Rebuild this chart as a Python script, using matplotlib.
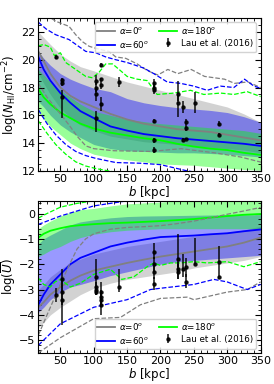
import numpy as np
import matplotlib
matplotlib.use("Agg")
import matplotlib.pyplot as plt
from matplotlib.ticker import MultipleLocator

# ---------------- data ----------------
xg = [17, 25, 35, 50, 65, 80, 100, 125, 150, 175, 200, 225, 250, 275, 300, 325, 350]

# top panel: log N_HI
n_gray_med = [20.6, 19.9, 19.0, 18.0, 17.4, 17.0, 16.6, 16.1, 15.7, 15.4, 15.2, 15.0, 14.9, 14.8, 14.6, 14.4, 14.2]
n_gray_lo = [19.0, 18.3, 17.5, 16.5, 15.8, 15.3, 14.9, 14.5, 14.3, 14.1, 14.0, 13.9, 13.8, 13.7, 13.6, 13.5, 13.3]
n_gray_hi = [22.0, 21.6, 21.1, 20.4, 19.9, 19.5, 19.2, 18.8, 18.4, 18.1, 17.8, 17.5, 17.2, 16.9, 16.6, 16.1, 15.5]
n_blue_med = [20.2, 19.3, 18.5, 17.6, 16.9, 16.3, 15.8, 15.2, 14.9, 14.65, 14.5, 14.35, 14.25, 14.15, 14.05, 13.95, 13.8]
n_blue_hi = [20.6, 20.1, 19.6, 19.0, 18.6, 18.3, 17.95, 17.7, 17.2, 16.9, 16.7, 16.55, 16.45, 16.35, 16.2, 15.9, 15.5]
n_blue_lo = [17.0, 16.6, 16.0, 15.3, 14.8, 14.4, 13.9, 13.6, 13.45, 13.4, 13.35, 13.3, 13.3, 13.25, 13.2, 13.1, 13.0]
n_green_med = [17.9, 17.3, 16.8, 16.2, 15.8, 15.4, 15.05, 14.75, 14.55, 14.35, 14.2, 13.95, 13.75, 13.6, 13.5, 13.3, 13.15]
n_green_hi = [19.3, 18.9, 18.4, 17.8, 17.3, 16.8, 16.3, 16.0, 15.7, 15.55, 15.4, 15.3, 15.2, 15.1, 15.0, 14.9, 14.7]
n_green_lo = [16.2, 15.7, 15.2, 14.6, 14.0, 13.6, 13.2, 12.95, 12.8, 12.65, 12.5, 12.45, 12.4, 12.3, 12.2, 12.1, 12.05]

n_gray_dhi_x = [17, 28, 43, 63, 73, 83, 93, 101, 113, 123, 133, 148, 165, 181, 196, 211, 226, 246, 266, 296, 311, 331, 350]
n_gray_dhi = [24.0, 23.25, 22.77, 22.4, 21.8, 21.3, 20.97, 20.85, 20.7, 20.6, 20.2, 20.1, 19.7, 19.2, 18.9, 19.3, 19.0, 19.3, 18.8, 18.6, 18.3, 18.4, 18.0]
n_blue_dhi_x = [17, 29, 43, 63, 88, 103, 118, 133, 150, 175, 190, 210, 230, 250, 270, 290, 310, 326, 340, 350]
n_blue_dhi = [22.7, 22.2, 21.8, 21.45, 20.6, 20.5, 20.2, 20.0, 19.8, 19.4, 19.0, 18.4, 18.3, 18.1, 17.8, 18.1, 18.0, 18.6, 18.1, 17.95]
n_green_dhi_x = [17, 25, 35, 41, 50, 58, 73, 88, 98, 108, 118, 128, 138, 150, 165, 180, 195, 220, 245, 265, 290, 310, 330, 350]
n_green_dhi = [21.0, 21.1, 20.9, 20.3, 20.5, 19.8, 19.3, 18.8, 18.7, 19.1, 19.7, 19.7, 19.3, 18.8, 18.6, 18.5, 17.5, 17.6, 17.8, 17.5, 17.6, 17.5, 17.7, 17.35]
n_gray_dlo_x = [17, 30, 45, 63, 75, 88, 100, 130, 186, 231, 281, 320, 353]
n_gray_dlo = [18.3, 17.3, 16.4, 15.3, 14.5, 13.8, 13.6, 13.45, 13.4, 13.6, 13.3, 13.0, 12.6]
n_blue_dlo_x = [17, 30, 43, 58, 73, 88, 103, 133, 170, 200, 240, 280, 350]
n_blue_dlo = [16.4, 15.4, 14.6, 13.9, 13.4, 13.1, 12.9, 12.6, 12.55, 12.45, 12.0, 11.7, 11.4]
n_green_dlo_x = [17, 30, 43, 58, 73, 88, 103, 133, 170, 200, 350]
n_green_dlo = [15.6, 14.7, 13.9, 13.2, 12.65, 12.35, 12.17, 11.9, 11.8, 11.7, 11.5]

# bottom panel: log U
u_gray_med = [-3.7, -3.5, -3.2, -2.9, -2.65, -2.45, -2.25, -2.1, -1.95, -1.82, -1.7, -1.6, -1.5, -1.4, -1.3, -1.15, -0.95]
u_gray_lo = [-4.5, -4.3, -4.0, -3.7, -3.45, -3.2, -2.95, -2.75, -2.6, -2.5, -2.4, -2.3, -2.15, -2.05, -1.95, -1.85, -1.7]
u_gray_hi = [-3.0, -2.8, -2.5, -2.2, -1.95, -1.8, -1.6, -1.45, -1.3, -1.2, -1.1, -1.0, -0.9, -0.8, -0.75, -0.65, -0.5]
u_blue_med = [-3.6, -3.2, -2.8, -2.4, -2.0, -1.75, -1.55, -1.3, -1.15, -1.03, -0.93, -0.9, -0.87, -0.82, -0.78, -0.7, -0.63]
u_blue_hi = [-1.2, -1.0, -0.85, -0.65, -0.45, -0.33, -0.25, -0.17, -0.12, -0.1, -0.09, -0.08, -0.07, -0.06, -0.05, -0.05, -0.05]
u_blue_lo = [-3.9, -3.7, -3.4, -3.1, -2.9, -2.8, -2.65, -2.45, -2.3, -2.15, -2.0, -1.9, -1.85, -1.8, -1.75, -1.7, -1.65]
u_green_med = [-0.95, -0.8, -0.68, -0.58, -0.5, -0.46, -0.42, -0.38, -0.36, -0.33, -0.3, -0.26, -0.22, -0.16, -0.1, -0.05, -0.02]
u_green_hi = [-0.6, -0.45, -0.3, -0.1, 0.05, 0.15, 0.2, 0.3, 0.38, 0.42, 0.45, 0.5, 0.55, 0.6, 0.6, 0.6, 0.6]
u_green_lo = [-1.7, -1.6, -1.45, -1.3, -1.1, -0.95, -0.82, -0.72, -0.66, -0.63, -0.6, -0.6, -0.6, -0.6, -0.6, -0.6, -0.6]

u_gray_dhi_x = [17, 30, 40, 50, 62, 75, 88, 100, 125, 150, 175, 200, 225, 250, 275, 300, 325, 350]
u_gray_dhi = [-4.8, -4.0, -3.4, -2.8, -2.1, -1.4, -1.0, -0.8, -0.62, -0.55, -0.52, -0.48, -0.4, -0.3, -0.17, -0.03, 0.1, 0.24]
u_blue_dhi_x = [17, 50, 100, 150, 200, 350]
u_blue_dhi = [-0.43, -0.1, 0.3, 0.5, 0.65, 0.9]
u_green_dhi_x = [17, 30, 50, 75, 100, 150, 350]
u_green_dhi = [-0.18, 0.0, 0.25, 0.4, 0.5, 0.65, 0.9]
u_green_dlo_x = [17, 25, 35, 42, 50, 65, 80, 100, 125, 142, 160, 180, 190, 200, 215, 230, 250, 270, 300, 325, 350]
u_green_dlo = [-2.55, -2.8, -2.9, -2.7, -2.6, -2.9, -2.75, -2.4, -2.2, -2.6, -2.5, -2.1, -1.95, -2.05, -1.95, -1.95, -1.9, -1.95, -1.9, -2.1, -1.9]
u_blue_dlo_x = [17, 50, 100, 150, 185, 200, 250, 280, 300, 330, 350]
u_blue_dlo = [-5.2, -4.35, -3.7, -3.4, -3.0, -2.95, -2.8, -2.6, -2.7, -3.0, -2.8]
u_gray_dlo_x = [17, 50, 100, 140, 170, 200, 240, 250, 300, 330, 350]
u_gray_dlo = [-5.5, -4.9, -4.15, -4.1, -3.6, -3.35, -3.3, -3.4, -3.1, -3.0, -2.7]

# Lau et al. (2016) observations
lau_b_N = [44, 53, 53, 53, 103, 103, 103, 103, 111, 111, 111, 111, 138, 190, 190, 190, 190, 190, 190,
           226, 226, 234, 234, 238, 238, 238, 252, 288, 288]
lau_N = [20.2, 18.55, 18.3, 17.3, 18.5, 18.0, 17.5, 15.8, 19.6, 18.6, 18.2, 16.8, 18.4, 18.3, 18.0, 17.8, 15.6, 14.2, 13.5,
         17.5, 16.9, 16.6, 14.2, 15.5, 15.1, 14.3, 16.9, 15.4, 14.6]
lau_N_lo = [.15, .15, .2, 1.5, .3, .3, .5, 1.0, .15, .15, .3, .5, .35, .3, .3, .3, .15, .2, .2,
            .5, 1.0, .4, .15, .2, .2, .1, .7, .2, .1]
lau_N_hi = [.15, .15, .2, .5, .4, .3, .5, .5, .15, .1, .3, .5, .35, .3, .3, .3, .15, .2, .2,
            1.0, .5, .4, .15, .2, .2, .1, .8, .2, .1]

lau_b_U = [44, 53, 53, 53, 103, 103, 103, 103, 111, 111, 111, 111, 138, 190, 190, 190, 190,
           226, 226, 226, 234, 238, 238, 252, 288, 288]
lau_U = [-3.2, -2.6, -3.1, -3.4, -2.5, -2.9, -3.0, -3.1, -3.1, -3.3, -3.4, -3.6, -2.9, -1.5, -2.0, -2.3, -2.8,
         -1.8, -2.2, -2.3, -2.2, -2.1, -2.7, -2.0, -1.9, -2.5]
lau_U_lo = [.3, .5, .5, 1.0, .3, .2, .2, .1, .3, .3, .3, .4, .2, .3, .3, .3, .2,
            .3, .4, .3, .3, .4, .25, .05, .3, .1]
lau_U_hi = [.25, .4, .5, .3, .7, .2, .2, .2, .4, .3, .3, .3, .7, .35, .3, .3, .3,
            1.0, .3, .3, .6, .35, .3, 1.05, .6, .3]

labels = [r'$\alpha$=0$^o$', r'$\alpha$=60$^o$', r'$\alpha$=180$^o$', 'Lau et al. (2016)']
colors = ['gray', 'blue', 'lime']

# ---------------- figure ----------------
fig = plt.figure(figsize=(2.74, 3.84), dpi=100)
ax1 = fig.add_axes([0.14, 0.555, 0.811, 0.398])
ax2 = fig.add_axes([0.14, 0.081, 0.811, 0.396])


def panel(ax, med, lo, hi, dhi, dlo, pts, ylim, ylabel, legloc, ymaj, ymin):
    fill_alpha = [0.35, 0.4, 0.4]
    for c, fa, l, h in zip(colors, fill_alpha, lo, hi):
        ax.fill_between(xg, l, h, color=c, alpha=fa, lw=0)
    handles = []
    for c, m, lab in zip(colors, med, labels[:3]):
        ln, = ax.plot(xg, m, color=c, lw=1.3, label=lab)
        handles.append(ln)
    for c, (dx, dy) in zip(colors, dhi):
        ax.plot(dx, dy, color=c, lw=0.9, ls='--')
    for c, (dx, dy) in zip(colors, dlo):
        ax.plot(dx, dy, color=c, lw=0.9, ls='--')
    b, v, vlo, vhi = pts
    eb = ax.errorbar(b, v, yerr=[vlo, vhi], fmt='o', color='k', ms=2.2,
                     elinewidth=1.2, capsize=0, alpha=0.85, label=labels[3])
    ax.set_xlim(17, 350)
    ax.set_ylim(*ylim)
    ax.xaxis.set_major_locator(MultipleLocator(50))
    ax.xaxis.set_minor_locator(MultipleLocator(10))
    ax.yaxis.set_major_locator(MultipleLocator(ymaj))
    ax.yaxis.set_minor_locator(MultipleLocator(ymin))
    ax.tick_params(which='both', direction='in', top=True, right=True, labelsize=8, pad=2)
    ax.tick_params(which='major', length=4, width=0.8)
    ax.tick_params(which='minor', length=2, width=0.6)
    ax.set_xlabel(r'$b$ [kpc]', fontsize=8.5, labelpad=0)
    ax.set_ylabel(ylabel, fontsize=8.5, labelpad=1)
    order = [handles[0], handles[1], handles[2], eb]
    ax.legend(order, labels, ncol=2, loc=legloc, fontsize=6.3, handlelength=2.0,
              columnspacing=1.2, labelspacing=0.3, borderpad=0.3, handletextpad=0.5,
              framealpha=0.85)


panel(ax1,
      [n_gray_med, n_blue_med, n_green_med],
      [n_gray_lo, n_blue_lo, n_green_lo],
      [n_gray_hi, n_blue_hi, n_green_hi],
      [(n_gray_dhi_x, n_gray_dhi), (n_blue_dhi_x, n_blue_dhi), (n_green_dhi_x, n_green_dhi)],
      [(n_gray_dlo_x, n_gray_dlo), (n_blue_dlo_x, n_blue_dlo), (n_green_dlo_x, n_green_dlo)],
      (lau_b_N, lau_N, lau_N_lo, lau_N_hi),
      (12, 23), r'log($N_{\rm HI}$/cm$^{-2}$)', 'upper right', 2, 0.5)

panel(ax2,
      [u_gray_med, u_blue_med, u_green_med],
      [u_gray_lo, u_blue_lo, u_green_lo],
      [u_gray_hi, u_blue_hi, u_green_hi],
      [(u_gray_dhi_x, u_gray_dhi), (u_blue_dhi_x, u_blue_dhi), (u_green_dhi_x, u_green_dhi)],
      [(u_gray_dlo_x, u_gray_dlo), (u_blue_dlo_x, u_blue_dlo), (u_green_dlo_x, u_green_dlo)],
      (lau_b_U, lau_U, lau_U_lo, lau_U_hi),
      (-5.5, 0.5), r'log($\overline{U}$)', 'lower right', 1, 0.2)

fig.savefig('out.png', dpi=100)
